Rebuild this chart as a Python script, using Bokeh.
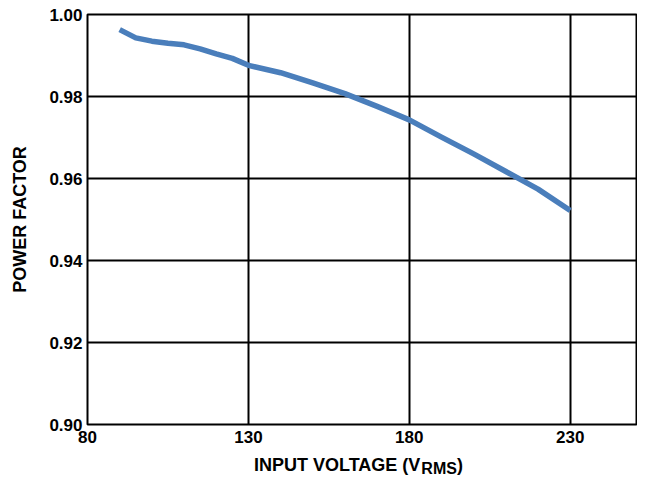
from bokeh.plotting import figure
from bokeh.models import Range1d, FixedTicker, Div
from bokeh.layouts import column
from bokeh.embed import file_html
from bokeh.resources import INLINE

# data
voltage = [90, 95, 100, 105, 110, 115, 120, 125, 130, 140, 150, 160, 170, 180, 190, 200, 210, 220, 230]
power_factor = [0.9963, 0.9943, 0.9935, 0.9930, 0.9926, 0.9916, 0.9904, 0.9893, 0.9876,
                0.9858, 0.9833, 0.9807, 0.9776, 0.9743, 0.9701, 0.9660, 0.9617, 0.9574, 0.9522]
x_ticks = [80, 130, 180, 230]
y_ticks = [0.90, 0.92, 0.94, 0.96, 0.98, 1.00]
y_tick_labels = {0.90: "0.90", 0.92: "0.92", 0.94: "0.94", 0.96: "0.96", 0.98: "0.98", 1.00: "1.00"}
x_label_main = "INPUT VOLTAGE (V"
x_label_sub = "RMS"
x_label_end = ")"
y_label = "POWER FACTOR"

FONT = "Liberation Sans"

p = figure(width=637, height=452, output_backend="svg", toolbar_location=None,
           x_range=Range1d(80, 250.6), y_range=Range1d(0.90, 1.00),
           min_border_left=87, min_border_right=1, min_border_top=14, min_border_bottom=28)
p.background_fill_color = "white"
p.border_fill_color = "white"
p.outline_line_color = "black"
p.outline_line_width = 2

p.line(voltage, power_factor, line_color="#4a7ebb", line_width=5.5, line_cap="butt", line_join="round")

for ax in (p.xaxis[0], p.yaxis[0]):
    ax.axis_line_color = None
    ax.major_tick_line_color = None
    ax.minor_tick_line_color = None
    ax.major_tick_out = 0
    ax.major_tick_in = 0
    ax.major_label_text_font = FONT
    ax.major_label_text_font_style = "bold"
    ax.major_label_text_font_size = "17px"
    ax.major_label_text_color = "black"

p.xaxis.ticker = FixedTicker(ticks=x_ticks)
p.yaxis.ticker = FixedTicker(ticks=y_ticks)
p.yaxis.major_label_overrides = y_tick_labels
p.xaxis.major_label_standoff = 6
p.yaxis.major_label_standoff = 5

p.yaxis.axis_label = y_label
p.yaxis.axis_label_text_font = FONT
p.yaxis.axis_label_text_font_style = "bold"
p.yaxis.axis_label_text_font_size = "18px"
p.yaxis.axis_label_text_color = "black"
p.yaxis.axis_label_standoff = 16

p.xgrid.ticker = FixedTicker(ticks=x_ticks)
p.ygrid.ticker = FixedTicker(ticks=y_ticks)
for g in (p.xgrid[0], p.ygrid[0]):
    g.grid_line_color = "black"
    g.grid_line_width = 2
    g.grid_line_alpha = 1.0

# x-axis label with subscript, as real text
label_html = (
    '<div style="margin-left:254px; margin-top:4px; line-height:18px; white-space:nowrap; '
    'font-family:\'Liberation Sans\', Arial, sans-serif; font-weight:bold; font-size:18px; color:black;">'
    + x_label_main
    + '<span style="font-size:16px; position:relative; top:3px; margin-left:1px;">' + x_label_sub + '</span>'
    + x_label_end
    + '</div>'
)
div = Div(text=label_html, width=637, height=23, margin=0)

layout = column(p, div, spacing=0)
open("out.html", "w").write(file_html(layout, INLINE))
